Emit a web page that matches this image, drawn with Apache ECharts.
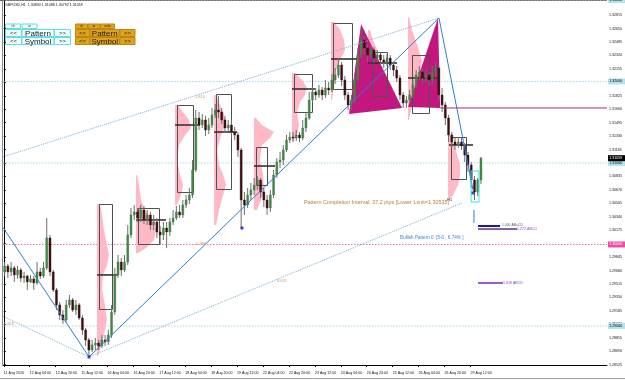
<!DOCTYPE html>
<html>
<head>
<meta charset="utf-8">
<script src="https://cdn.jsdelivr.net/npm/echarts@6.0.0/dist/echarts.min.js"></script>
<style>
html,body{margin:0;padding:0;background:#ffffff;overflow:hidden}
#chart{width:625px;height:380px}
</style>
</head>
<body>
<div id="chart"></div>
<script>
// ================= DATA =================
const symbolTitle = 'GBPUSD,H1  1.30830 1.31088 1.30792 1.31059';

// time axis: hourly bar index from 11 Aug 2016 12:00
const timeTickIndex = [0,16,32,48,64,80,96,112,128,144,160,176,192,208,224,240,256,272,288];
const timeTickLabels = ['11 Aug 2016','12 Aug 04:00','12 Aug 20:00','15 Aug 12:00','16 Aug 04:00','16 Aug 20:00',
  '17 Aug 12:00','18 Aug 04:00','18 Aug 20:00','19 Aug 12:00','22 Aug 04:00','22 Aug 20:00','23 Aug 12:00',
  '24 Aug 04:00','24 Aug 20:00','25 Aug 12:00','26 Aug 04:00','26 Aug 20:00','29 Aug 12:00'];

// price axis tick labels
const priceTicks = [1.28525,1.28690,1.28855,1.29020,1.29185,1.29350,1.29515,1.29680,1.29845,1.30010,
  1.30175,1.30340,1.30505,1.30670,1.30835,1.31000,1.31165,1.31330,1.31495,1.31660,1.31825,1.31990,
  1.32155,1.32320,1.32485,1.32650,1.32815];

// 2-hour candles (open of each candle = previous close)
const firstOpen = 1.29663;
const closes = [
 1.29736,1.29663,1.29712,1.29626,1.29687,1.29589,1.29613,1.29540,1.29577,1.29528,
 1.29663,1.29613,1.29712,1.30080,1.29663,1.29442,1.29258,1.29135,1.29074,1.29258,
 1.29319,1.29196,1.29258,1.29098,1.28951,1.28828,1.28705,1.28767,1.28791,1.28755,
 1.28828,1.28804,1.28890,1.29172,1.29626,1.29785,1.29687,1.29785,1.30117,1.30362,
 1.30399,1.30325,1.30423,1.30301,1.30362,1.30239,1.30276,1.30153,1.30117,1.30202,
 1.30153,1.30276,1.30325,1.30399,1.30362,1.30485,1.30546,1.30607,1.30914,1.31552,
 1.31466,1.31528,1.31405,1.31466,1.31589,1.31650,1.31626,1.31528,1.31429,1.31466,
 1.31380,1.31344,1.31160,1.30546,1.30485,1.30607,1.30669,1.30730,1.30791,1.30644,
 1.30546,1.30448,1.30607,1.30853,1.31012,1.31037,1.31160,1.31282,1.31319,1.31307,
 1.31344,1.31307,1.31429,1.31552,1.31773,1.31871,1.31834,1.31896,1.31834,1.31920,
 1.31896,1.32018,1.32080,1.32202,1.32018,1.31834,1.31712,1.31773,1.32018,1.32325,
 1.32509,1.32411,1.32325,1.32387,1.32288,1.32325,1.32264,1.32239,1.32288,1.32202,
 1.32141,1.32043,1.31834,1.31736,1.31773,1.31834,1.31957,1.32080,1.32117,1.32043,
 1.32080,1.32018,1.32117,1.32166,1.31834,1.31712,1.31552,1.31344,1.31258,1.31221,
 1.31258,1.31209,1.31098,1.30975,1.30791,1.30644,1.30791,1.31059];
const highs = [
 1.29785,1.29761,1.29785,1.29736,1.29736,1.29712,1.29663,1.29626,1.29626,1.29613,
 1.29785,1.29712,1.29785,1.30325,1.30117,1.29687,1.29466,1.29294,1.29196,1.29319,
 1.29380,1.29344,1.29319,1.29282,1.29135,1.28975,1.28853,1.28828,1.28853,1.28828,
 1.28890,1.28890,1.28951,1.29258,1.29712,1.29871,1.29834,1.29871,1.30239,1.30448,
 1.30485,1.30448,1.30485,1.30472,1.30423,1.30399,1.30362,1.30325,1.30227,1.30276,
 1.30276,1.30325,1.30423,1.30472,1.30485,1.30546,1.30607,1.30693,1.31037,1.31650,
 1.31626,1.31601,1.31577,1.31552,1.31675,1.31724,1.31822,1.31675,1.31577,1.31528,
 1.31528,1.31442,1.31380,1.31184,1.30644,1.30693,1.30755,1.30816,1.30840,1.30816,
 1.30693,1.30607,1.30669,1.30914,1.31061,1.31135,1.31221,1.31344,1.31380,1.31380,
 1.31405,1.31380,1.31528,1.31626,1.31871,1.31945,1.31920,1.31957,1.31933,1.32018,
 1.31994,1.32092,1.32166,1.32288,1.32239,1.32067,1.31871,1.31834,1.32080,1.32411,
 1.32632,1.32558,1.32460,1.32448,1.32423,1.32387,1.32362,1.32325,1.32337,1.32325,
 1.32239,1.32190,1.32080,1.31871,1.31822,1.31896,1.32018,1.32141,1.32190,1.32166,
 1.32141,1.32117,1.32190,1.32239,1.32202,1.31920,1.31748,1.31589,1.31380,1.31307,
 1.31307,1.31307,1.31245,1.31135,1.31012,1.30840,1.30816,1.31074];
const lows = [
 1.29613,1.29589,1.29613,1.29540,1.29577,1.29540,1.29528,1.29442,1.29528,1.29442,
 1.29503,1.29577,1.29589,1.29687,1.29613,1.29417,1.29196,1.29074,1.29025,1.29049,
 1.29221,1.29172,1.29135,1.29074,1.28890,1.28755,1.28620,1.28681,1.28705,1.28705,
 1.28730,1.28755,1.28767,1.28853,1.29135,1.29589,1.29613,1.29663,1.29748,1.30080,
 1.30301,1.30276,1.30276,1.30252,1.30239,1.30178,1.30178,1.30080,1.29994,1.30055,
 1.29957,1.30104,1.30239,1.30301,1.30325,1.30325,1.30448,1.30497,1.30571,1.30890,
 1.31405,1.31429,1.31331,1.31356,1.31429,1.31552,1.31552,1.31479,1.31368,1.31380,
 1.31307,1.31282,1.31074,1.30202,1.30362,1.30448,1.30546,1.30607,1.30669,1.30571,
 1.30460,1.30362,1.30399,1.30571,1.30816,1.30939,1.30975,1.31135,1.31245,1.31258,
 1.31270,1.31258,1.31282,1.31380,1.31528,1.31736,1.31773,1.31798,1.31773,1.31798,
 1.31834,1.31871,1.31969,1.32043,1.31945,1.31773,1.31650,1.31650,1.31736,1.31994,
 1.32288,1.32325,1.32239,1.32288,1.32227,1.32239,1.32190,1.32166,1.32190,1.32141,
 1.32067,1.31994,1.31773,1.31675,1.31675,1.31724,1.31798,1.31920,1.32018,1.31969,
 1.31994,1.31945,1.31969,1.32043,1.31773,1.31626,1.31466,1.31258,1.31184,1.31160,
 1.31184,1.31160,1.31012,1.30890,1.30693,1.30546,1.30595,1.30742];
const lastPrice = 1.31059;

// horizontal round levels
const roundLevels = [1.33, 1.32, 1.31, 1.30, 1.29];

// harmonic pattern drawing objects ([bar index, price])
const zigzagLine = [[-0.5,1.30209],[52.6,1.28620],[268.6,1.32779],[289.6,1.30669]];
const upperChannel = [[-0.5,1.31074],[268.6,1.32779]];
const lowerChannelLeft = [[-0.5,1.29118],[52.6,1.28620]];
const lowerChannelRight = [[52.6,1.28620],[282.8,1.30509]];
const completionTick = [[290.2,1.30423],[290.2,1.30264]];
const triangleA = [[213.1,1.31601],[220.5,1.32706],[245.8,1.31675]];
const triangleB = [[249.5,1.31687],[268.0,1.32779],[269.3,1.31675]];
const przLevel = [[269.3,1.31675],[372.3,1.31675]];
const abcd1000 = [[292.7,1.30227],[306.3,1.30227]];
const abcd1272 = [[292.7,1.30190],[316.8,1.30190]];
const abcd1618 = [[292.7,1.29528],[308.1,1.29528]];
const completionBox = [[288.4,1.30902,293.3,1.30521]];
const pivotMarks = [[52.6,1.28620],[147.0,1.30202],[289.6,1.30632]];

// daily value-area boxes and POC lines
const boxStart = [58.8,82.8,107.0,131.0,155.7,179.1,203.2,227.3,252.0,276.0];
const boxEnd   = [66.8,95.8,116.8,140.4,162.5,190.3,214.9,236.6,262.4,285.3];
const boxHigh  = [1.30497,1.30448,1.31712,1.31847,1.31196,1.32092,1.32718,1.32362,1.32325,1.31319];
const boxLow   = [1.29209,1.30006,1.30644,1.30681,1.30730,1.31626,1.31908,1.31822,1.31613,1.30804];
const pocPrice = [1.29626,1.30301,1.31466,1.31380,1.30963,1.31908,1.32276,1.32227,1.32043,1.31221];
const pocStart = [57.5,81.6,105.7,129.8,154.4,177.9,202.0,224.8,249.5,274.8];
const pocEnd   = [70.5,100.1,121.1,144.0,167.4,192.1,218.7,242.7,267.4,289.6];

// daily volume profiles (price levels and width in bars)
const profileStart = [57.5,81.6,105.7,129.8,154.4,177.9,202.0,224.8,249.5,274.2];
const profilePrices = [
 [1.30497,1.30362,1.30178,1.29994,1.29871,1.29748,1.29626,1.29442,1.29258,1.29074,1.28890,1.28705,1.28632],
 [1.30853,1.30730,1.30546,1.30423,1.30301,1.30178,1.30055,1.29957,1.29896],
 [1.31712,1.31626,1.31528,1.31429,1.31344,1.31221,1.31037,1.30853,1.30730,1.30607,1.30485],
 [1.31834,1.31712,1.31589,1.31466,1.31344,1.31160,1.30975,1.30853,1.30730,1.30607,1.30423,1.30239],
 [1.31552,1.31466,1.31380,1.31307,1.31221,1.31037,1.30853,1.30669,1.30546,1.30423],
 [1.32104,1.32018,1.31920,1.31834,1.31748,1.31626,1.31466,1.31344,1.31258],
 [1.32730,1.32632,1.32509,1.32387,1.32288,1.32141,1.31957,1.31773],
 [1.32632,1.32509,1.32387,1.32264,1.32141,1.31957,1.31810],
 [1.32791,1.32632,1.32448,1.32264,1.32080,1.31896,1.31712,1.31528],
 [1.31344,1.31221,1.31098,1.30975,1.30853,1.30730,1.30607,1.30546]];
const profileWidths = [
 [1.9,3.1,4.3,6.2,7.4,6.2,3.7,3.1,4.9,6.2,4.3,1.9,0.6],
 [0.6,1.9,3.1,5.6,9.9,12.3,11.1,6.2,1.2],
 [1.9,4.9,8.6,9.9,6.2,2.5,1.2,3.1,4.9,3.7,1.2],
 [1.2,3.7,6.2,6.8,4.3,1.9,3.1,5.6,7.4,5.6,3.1,1.2],
 [1.2,4.9,12.3,9.9,4.9,3.7,5.6,6.2,4.3,1.9],
 [1.9,6.2,9.3,8.0,4.9,3.1,4.3,3.1,0.6],
 [1.9,5.6,8.0,8.6,6.2,3.1,1.9,0.6],
 [1.2,3.1,5.6,6.2,4.3,3.1,1.2],
 [0.6,2.5,5.6,8.6,7.4,4.3,2.5,0.6],
 [1.2,3.7,5.6,7.4,7.4,6.2,3.1,0.6]];

// chart annotations
const annotationTexts = ['1.810','0.886','0.631','1.653',
  'Pattern Completion Interval: 37.2 pips [Lower Limit=1.30535]',
  'Bullish Pattern 0  [5-0 , 6.74% ]','H1','1.000 AB=CD','1.272 ABCD','1.618 ABCD'];
const annotationIdx   = [118.0,118.7,168.6,0.0,185.3,244.6,273.6,307.5,316.8,308.1];
const annotationPrice = [1.31810,1.30006,1.29552,1.29025,1.30521,1.30080,1.30546,1.30239,1.30190,1.29528];

// ================= CHART =================
const XMIN = -0.5, XMAX = 372.3, YMIN = 1.28521, YMAX = 1.33;
const FONT = '"Liberation Sans", Arial, sans-serif';
const annStyle = [
  {c:'#c89a62',s:4},{c:'#c89a62',s:4},{c:'#c89a62',s:4},{c:'#c89a62',s:4},
  {c:'#c07a3e',s:5.4},{c:'#3f86d0',s:4.6},{c:'#333333',s:4},
  {c:'#555555',s:3.4},{c:'#8a4ab8',s:3.6},{c:'#8a4ab8',s:3.6}];
const levelStyle = [
  {line:'#a9d6e6',bg:'#b4e0ee',tx:'#000'},{line:'#a9d6e6',bg:'#b4e0ee',tx:'#000'},
  {line:'#a9d6e6',bg:'#b4e0ee',tx:'#000'},{line:'#d873ad',bg:'#ec4ea2',tx:'#fff'},
  {line:'#a9d6e6',bg:'#b4e0ee',tx:'#000'}];

const candles = closes.map((c,k)=>[2*k+0.5, k===0?firstOpen:closes[k-1], c, lows[k], highs[k]]);

function txt(x,y,text,size,fill,align){
  return {type:'text', x:x, y:y, style:{text:text, fill:fill, font:size+'px '+FONT,
    align:align||'left', verticalAlign:'middle', textAlign:align||'left', textVerticalAlign:'middle'}};
}

function lineSeries(data,color,type,width,z){
  return {type:'line', data:data, symbol:'none', silent:true, animation:false, z:z, clip:true,
    lineStyle:{color:color, width:width, type:type}};
}

const chart = echarts.init(document.getElementById('chart'), null, {renderer:'canvas', width:625, height:380});

// buttons (UI chrome)
function button(x,y,w,h,label,fill,stroke,fs){
  return {type:'group', children:[
    {type:'rect', shape:{x:x,y:y,width:w,height:h}, style:{fill:fill, stroke:stroke, lineWidth:1}},
    {type:'text', x:x+w/2, y:y+h/2+0.3, style:{text:label, fill:'#1a1a1a', font:fs+'px '+FONT,
      align:'center', verticalAlign:'middle', textAlign:'center', textVerticalAlign:'middle'}}
  ]};
}
const cyF='#f2ffff', cyS='#62dde4', orF='#e2a21c', orS='#b98712';
const graphics = [
  {type:'line', shape:{x1:2.5,y1:0,x2:2.5,y2:365}, style:{stroke:'#8a8a8a',lineWidth:1}},
  {type:'line', shape:{x1:0,y1:0.5,x2:607,y2:0.5}, style:{stroke:'#6a6a6a',lineWidth:1}},
  {type:'line', shape:{x1:0,y1:378.5,x2:625,y2:378.5}, style:{stroke:'#a0a0a0',lineWidth:1}},
  txt(5,5,symbolTitle,3.6,'#111'),
  button(5.5,24,15,4.5,'ch',cyF,cyS,3), button(22,24,15,4.5,'ar',cyF,cyS,3),
  button(5.5,29.5,16,7,'<<',cyF,cyS,6), button(22,29.5,32,7,'Pattern',cyF,cyS,8), button(54.5,29.5,16,7,'>>',cyF,cyS,6),
  button(5.5,37.5,16,7,'<<',cyF,cyS,6), button(22,37.5,32,7,'Symbol',cyF,cyS,8), button(54.5,37.5,16,7,'>>',cyF,cyS,6),
  button(75.5,24,12,4.5,'ch',orF,orS,3), button(88,24,12,4.5,'ar',orF,orS,3), button(100.5,24,14,4.5,'auto',orF,orS,3),
  button(75.5,29.5,14,7,'<<',orF,orS,6), button(90,29.5,29.5,7,'Pattern',orF,orS,8), button(120,29.5,15,7,'>>',orF,orS,6),
  button(75.5,37.5,14,7,'<<',orF,orS,6), button(90,37.5,29.5,7,'Symbol',orF,orS,8), button(120,37.5,15,7,'>>',orF,orS,6)
];

const option = {
  animation:false,
  backgroundColor:'#ffffff',
  grid:{left:3, right:18, top:0, bottom:15, show:false},
  xAxis:{type:'value', min:XMIN, max:XMAX,
    axisLine:{show:true, lineStyle:{color:'#000', width:1}},
    axisTick:{show:true, customValues:timeTickIndex, length:2, lineStyle:{color:'#000'}},
    axisLabel:{customValues:timeTickIndex, align:'left', margin:6, fontSize:3.6, fontFamily:'Liberation Sans', color:'#111',
      formatter:function(v){ const i=timeTickIndex.indexOf(Math.round(v)); return i>=0?timeTickLabels[i]:''; }},
    splitLine:{show:false}},
  yAxis:{type:'value', position:'right', min:YMIN, max:YMAX, scale:true,
    axisLine:{show:true, lineStyle:{color:'#000', width:1}},
    axisTick:{show:true, customValues:priceTicks, length:2, lineStyle:{color:'#000'}},
    axisLabel:{customValues:priceTicks, margin:2, fontSize:3.6, fontFamily:'Liberation Sans', color:'#111',
      formatter:function(v){ return Number(v).toFixed(5); }},
    splitLine:{show:false}},
  graphic:graphics,
  series:[
    // round level lines + axis labels
    {type:'custom', z:1, silent:true, data:roundLevels.map((v,k)=>[XMIN,v,k]), encode:{x:0,y:1},
      renderItem:function(params,api){
        const k=api.value(2), v=api.value(1), st=levelStyle[k];
        const p=api.coord([XMIN,v]); const cs=params.coordSys;
        const rx=cs.x+cs.width+1;
        return {type:'group', children:[
          {type:'line', shape:{x1:cs.x,y1:p[1],x2:cs.x+cs.width,y2:p[1]}, style:{stroke:st.line,lineWidth:1,lineDash:[1.5,1.5]}},
          {type:'rect', shape:{x:rx,y:p[1]-3,width:17,height:6}, style:{fill:st.bg}},
          txt(rx+1.2,p[1],v.toFixed(5),3.6,st.tx)
        ]};
      }},
    // volume profiles
    {type:'custom', z:2, silent:true, data:profileStart.map((s,k)=>[s,profilePrices[k][0],k]), encode:{x:0,y:1},
      renderItem:function(params,api){
        const k=api.value(2), base=profileStart[k], pr=profilePrices[k], wd=profileWidths[k];
        const pts=[api.coord([base,pr[0]])];
        for(let j=0;j<pr.length;j++) pts.push(api.coord([base+wd[j],pr[j]]));
        pts.push(api.coord([base,pr[pr.length-1]]));
        return {type:'polygon', shape:{points:pts}, style:{fill:'#ffb8c6'}};
      }},
    // harmonic triangles
    {type:'custom', z:3, silent:true, data:[[triangleA[1][0],triangleA[1][1],0],[triangleB[1][0],triangleB[1][1],1]], encode:{x:0,y:1},
      renderItem:function(params,api){
        const tri=api.value(2)===0?triangleA:triangleB;
        return {type:'polygon', shape:{points:tri.map(p=>api.coord(p))}, style:{fill:'#c3177f'}};
      }},
    // value area boxes + POC
    {type:'custom', z:4, silent:true, data:boxStart.map((s,k)=>[s,boxHigh[k],boxEnd[k],boxLow[k],k]), encode:{x:[0,2],y:[1,3]},
      renderItem:function(params,api){
        const k=api.value(4);
        const a=api.coord([boxStart[k],boxHigh[k]]), b=api.coord([boxEnd[k],boxLow[k]]);
        const p1=api.coord([pocStart[k],pocPrice[k]]), p2=api.coord([pocEnd[k],pocPrice[k]]);
        return {type:'group', children:[
          {type:'rect', shape:{x:Math.round(a[0])+0.5,y:Math.round(a[1])+0.5,width:Math.round(b[0]-a[0]),height:Math.round(b[1]-a[1])}, style:{fill:'none',stroke:'#505050',lineWidth:1}},
          {type:'line', shape:{x1:p1[0],y1:p1[1],x2:p2[0],y2:p2[1]}, style:{stroke:'#333',lineWidth:1.6}}
        ]};
      }},
    // candles
    {type:'custom', z:5, silent:true, data:candles, encode:{x:0,y:[1,2,3,4]},
      renderItem:function(params,api){
        const x=api.value(0), o=api.value(1), c=api.value(2), l=api.value(3), h=api.value(4);
        const pO=api.coord([x,o]), pC=api.coord([x,c]), pL=api.coord([x,l]), pH=api.coord([x,h]);
        const w=Math.max(1.2, api.size([2,0])[0]*0.62);
        const top=Math.min(pO[1],pC[1]), bot=Math.max(pO[1],pC[1]);
        const up=c>=o;
        return {type:'group', children:[
          {type:'line', shape:{x1:pH[0],y1:pH[1],x2:pL[0],y2:pL[1]}, style:{stroke:'#6e6e6e',lineWidth:1}},
          {type:'rect', shape:{x:pO[0]-w/2,y:top,width:w,height:Math.max(1,bot-top)},
            style:{fill:up?'#3e8c3e':'#3b0e0e', stroke:up?'#4f6f4f':'#3b0e0e', lineWidth:0.4}}
        ]};
      }},
    // pattern lines
    lineSeries(upperChannel,'#78aed6','dotted',1,6),
    lineSeries(lowerChannelLeft,'#78aed6','dotted',1,6),
    lineSeries(lowerChannelRight,'#78aed6','dotted',1,6),
    lineSeries(zigzagLine,'#2a7fd8','solid',1,7),
    lineSeries(completionTick,'#2a7fd8','solid',1,7),
    lineSeries(przLevel,'#a8287e','solid',1,7),
    lineSeries(abcd1000,'#1a1aa8','solid',2,7),
    lineSeries(abcd1272,'#5b2f8c','solid',1.4,7),
    lineSeries(abcd1618,'#9558cc','solid',2,7),
    // completion box
    {type:'custom', z:8, silent:true, data:completionBox, encode:{x:[0,2],y:[1,3]},
      renderItem:function(params,api){
        const a=api.coord([api.value(0),api.value(1)]), b=api.coord([api.value(2),api.value(3)]);
        return {type:'rect', shape:{x:a[0],y:a[1],width:b[0]-a[0],height:b[1]-a[1]}, style:{fill:'none',stroke:'#3fe0e8',lineWidth:1}};
      }},
    // pivot markers
    {type:'scatter', z:9, silent:true, data:pivotMarks, symbol:'rect', symbolSize:3, itemStyle:{color:'#1414c8'}},
    // annotations
    {type:'custom', z:10, silent:true, data:annotationIdx.map((x,k)=>[x,annotationPrice[k],k]), encode:{x:0,y:1},
      renderItem:function(params,api){
        const k=api.value(2); const p=api.coord([api.value(0),api.value(1)]);
        return txt(p[0],p[1],annotationTexts[k],annStyle[k].s,annStyle[k].c);
      }},
    // current price label
    {type:'custom', z:11, silent:true, data:[[XMAX,lastPrice]], encode:{x:0,y:1},
      renderItem:function(params,api){
        const p=api.coord([XMAX,api.value(1)]); const cs=params.coordSys; const rx=cs.x+cs.width+1;
        return {type:'group', children:[
          {type:'rect', shape:{x:rx,y:p[1]-3,width:17,height:6}, style:{fill:'#000'}},
          txt(rx+1.2,p[1],api.value(1).toFixed(5),3.6,'#fff')
        ]};
      }}
  ]
};
chart.setOption(option);
</script>
</body>
</html>
